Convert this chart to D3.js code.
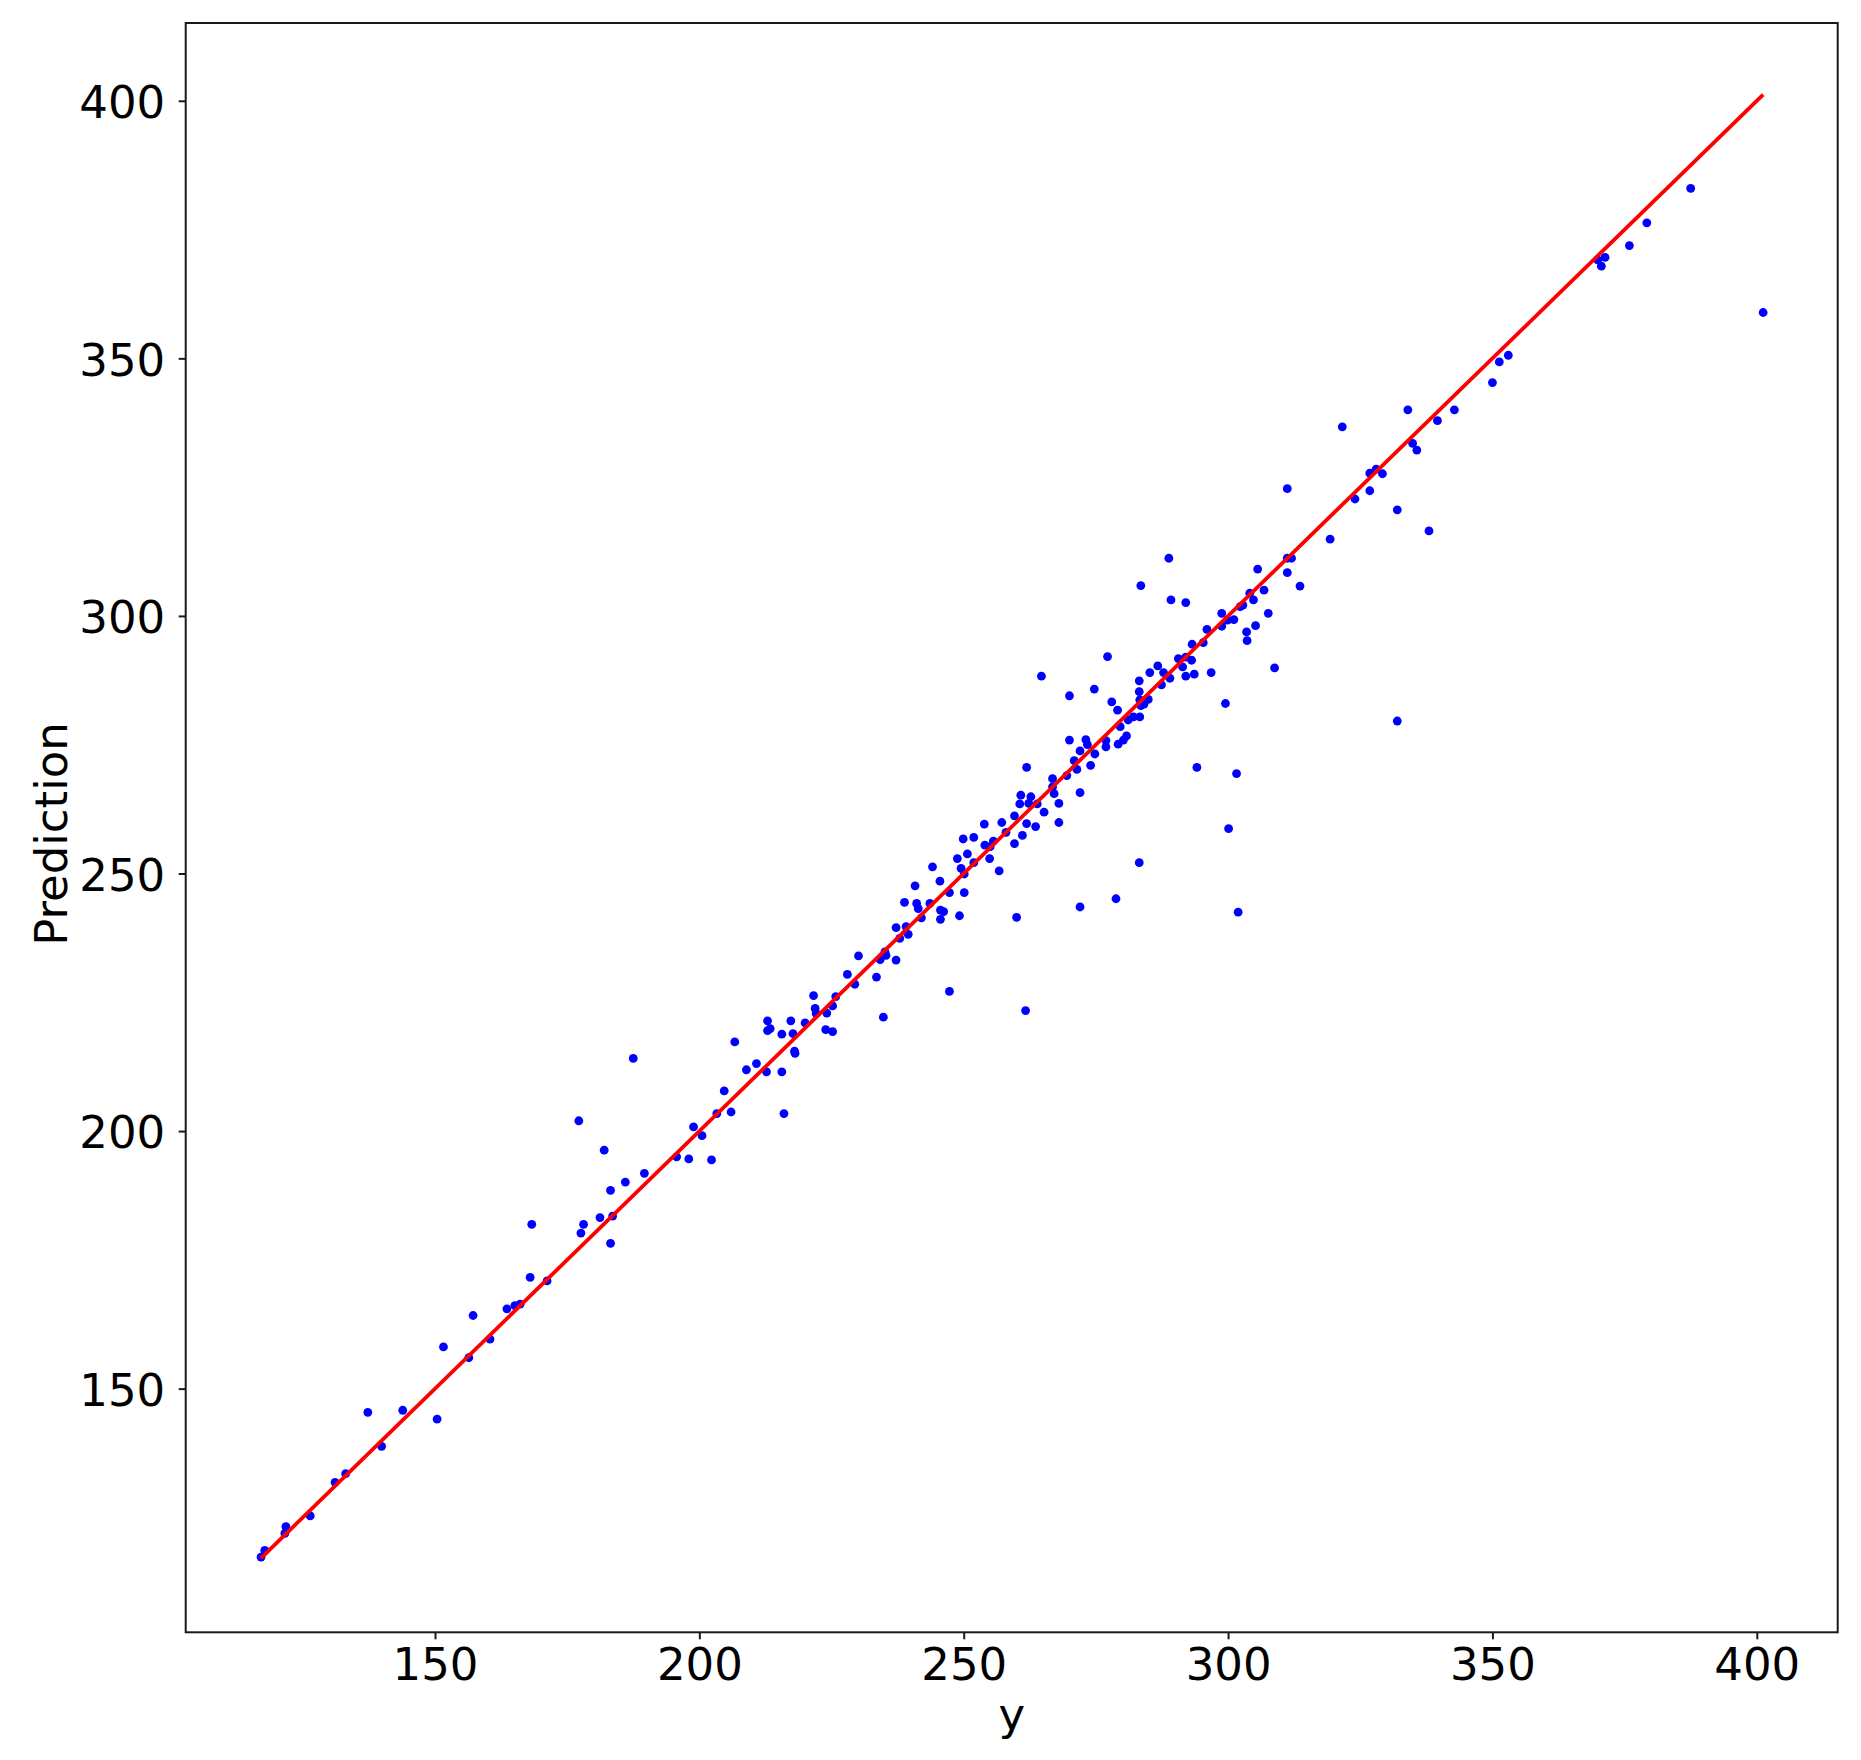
<!DOCTYPE html>
<html>
<head>
<meta charset="utf-8">
<script src="https://cdn.jsdelivr.net/npm/d3@7"></script>
<style>
  html, body { margin: 0; padding: 0; background: #fff; }
  svg { display: block; }
  text { font-family: "DejaVu Sans", sans-serif; fill: #000; }
</style>
</head>
<body>
<svg id="chart" width="1861" height="1760"></svg>
<script>
// ---- data: true values (x) and predictions (y) ----
const yTrue = [
  117.1,117.8,121.8,121.6,126.4,131.1,133.1,137.3,139.9,143.9,150.4,151.6,156.4,157.2,160.4,163.6,165.1,166.1,168.0,168.3,
  171.2,177.2,177.6,178.1,181.2,182.0,183.2,183.6,183.2,186.0,189.6,195.7,198.0,198.9,200.5,187.5,202.3,
  203.3,206.0,204.7,216.0,206.7,208.9,210.8,212.7,215.6,212.9,213.4,212.9,215.6,217.3,217.7,218.0,218.1,220.0,221.6,
  221.9,222.1,224.1,223.9,225.2,225.2,225.8,228.0,229.4,230.1,234.8,233.5,234.2,235.1,235.3,237.2,237.2,237.9,239.5,
  239.1,238.8,240.8,241.1,241.4,242.0,243.6,244.1,245.5,245.6,246.2,245.6,247.3,247.3,249.2,250.1,250.1,249.5,248.8,
  250.7,249.9,251.9,251.9,253.9,254.0,255.0,254.9,255.6,256.7,257.2,258.0,259.6,259.6,260.0,261.1,260.6,260.8,261.7,
  261.9,261.9,262.3,262.7,263.6,263.9,264.7,265.2,266.8,266.8,267.1,268.0,268.0,269.5,270.0,270.0,270.9,271.4,272.0,
  272.0,272.0,273.1,273.4,274.0,274.7,274.8,276.9,276.9,277.2,278.0,278.8,279.1,279.2,279.6,280.2,280.8,281.1,282.1,
  283.2,283.2,283.2,283.3,283.5,283.3,284.1,284.9,285.2,286.7,287.4,287.8,289.0,290.6,
  353.0,351.3,350.0,334.0,321.6,339.6,342.8,334.9,335.7,326.8,328.0,329.2,326.8,324.0,311.2,332.0,338.0,319.3,311.2,
  312.0,311.2,313.6,305.6,306.8,304.1,304.8,302.8,302.3,307.6,298.8,299.9,301.1,298.8,296.0,295.3,303.5,303.6,305.2,
  288.8,283.5,289.2,292.0,293.2,292.0,293.1,291.4,293.6,292.0,296.8,308.8,299.5,332.0,294.1,301.6,300.1,
  301.9,369.9,370.6,371.3,375.9,379.2,387.5,401.2
];
const yPred = [
  117.3,118.6,123.2,121.9,125.3,131.8,133.5,145.4,138.8,145.8,144.1,158.1,156.0,164.2,159.6,165.5,166.1,166.4,171.6,181.9,
  170.9,202.0,180.2,181.9,183.2,196.3,188.5,183.5,178.2,190.1,191.8,195.0,194.6,200.8,199.1,214.1,194.4,
  203.4,203.7,207.8,203.4,217.3,211.9,213.1,211.5,211.5,221.4,219.9,219.5,218.8,221.4,218.9,215.5,215.1,221.0,226.3,
  223.8,222.8,222.9,219.7,219.3,224.3,226.1,230.4,228.5,234.0,222.1,229.9,233.3,234.8,234.1,233.2,239.5,237.4,238.2,
  239.7,244.4,247.6,244.2,243.2,241.4,244.2,251.3,248.5,242.9,242.6,241.1,246.3,227.1,241.8,246.3,249.9,251.0,252.9,
  253.8,256.7,257.0,252.1,259.6,255.5,255.2,252.9,256.3,250.5,259.9,258.0,255.8,261.2,241.5,257.4,263.5,265.2,223.4,
  270.6,259.7,263.6,264.9,259.1,263.5,288.3,261.9,268.4,266.8,265.5,263.6,259.9,269.0,275.9,284.5,271.9,270.2,265.7,
  243.5,273.8,276.0,275.0,271.0,285.8,273.2,274.6,275.8,292.1,283.3,245.1,281.7,275.1,278.5,275.9,276.7,279.8,280.4,
  252.1,287.4,285.3,283.7,282.6,280.4,282.9,283.8,289.0,290.3,286.6,289.0,287.9,291.7,
  350.6,349.3,345.3,340.0,336.7,337.9,340.0,333.5,332.2,327.7,328.5,327.6,324.3,322.7,324.7,320.6,316.5,314.9,311.2,
  311.2,308.4,305.8,309.1,305.0,304.4,303.1,302.1,301.8,300.5,300.5,299.2,299.3,298.0,297.4,294.8,296.9,295.2,298.1,
  311.2,305.9,303.1,302.6,294.5,292.0,291.4,290.1,288.7,288.3,289.0,289.9,283.0,279.6,270.6,269.4,258.7,
  242.5,369.1,367.9,369.6,371.9,376.3,383.0,358.9
];
const tickValues = [150, 200, 250, 300, 350, 400];
const xLabel = "y";
const yLabel = "Prediction";

// ---- layout ----
const plot = { left: 185.7, right: 1837.7, top: 23, bottom: 1632.3 };
const xDomain = [102.85, 415.3];
const yDomain = [102.7, 415.1];
const fontSize = 45;

const svg = d3.select("#chart");
svg.append("rect").attr("width", 1861).attr("height", 1760).attr("fill", "#fff");

const x = d3.scaleLinear().domain(xDomain).range([plot.left, plot.right]);
const y = d3.scaleLinear().domain(yDomain).range([plot.bottom, plot.top]);

const points = yTrue.map((v, i) => ({ t: v, p: yPred[i] }));

// scatter
svg.append("g")
  .selectAll("circle")
  .data(points)
  .join("circle")
  .attr("cx", d => x(d.t))
  .attr("cy", d => y(d.p))
  .attr("r", 4.4)
  .attr("fill", "#0000ff");

// identity line
const ext = d3.extent(yTrue);
svg.append("path")
  .datum([ext[0], ext[1]])
  .attr("d", d3.line().x(d => x(d)).y(d => y(d)))
  .attr("stroke", "#ff0000")
  .attr("stroke-width", 3.8)
  .attr("fill", "none");

// frame
svg.append("rect")
  .attr("x", plot.left).attr("y", plot.top)
  .attr("width", plot.right - plot.left)
  .attr("height", plot.bottom - plot.top)
  .attr("fill", "none")
  .attr("stroke", "#1a1a1a")
  .attr("stroke-width", 2);

// axes
const xAxis = svg.append("g")
  .attr("transform", `translate(0,${plot.bottom})`)
  .call(d3.axisBottom(x).tickValues(tickValues).tickSize(7).tickPadding(9).tickFormat(d3.format("d")));
const yAxis = svg.append("g")
  .attr("transform", `translate(${plot.left},0)`)
  .call(d3.axisLeft(y).tickValues(tickValues).tickSize(7).tickPadding(13.5).tickFormat(d3.format("d")));

[xAxis, yAxis].forEach(g => {
  g.select(".domain").remove();
  g.selectAll(".tick line").attr("stroke", "#1a1a1a").attr("stroke-width", 2);
  g.selectAll(".tick text")
    .attr("fill", "#000")
    .style("font-family", '"DejaVu Sans", sans-serif')
    .style("font-size", fontSize + "px");
});
yAxis.selectAll(".tick text").attr("dy", "0.37em");

// axis labels
svg.append("text")
  .attr("x", (plot.left + plot.right) / 2)
  .attr("y", 1730)
  .attr("text-anchor", "middle")
  .style("font-size", fontSize + "px")
  .text(xLabel);

svg.append("text")
  .attr("transform", `translate(67,${834}) rotate(-90)`)
  .attr("text-anchor", "middle")
  .style("font-size", fontSize + "px")
  .text(yLabel);
</script>
</body>
</html>
